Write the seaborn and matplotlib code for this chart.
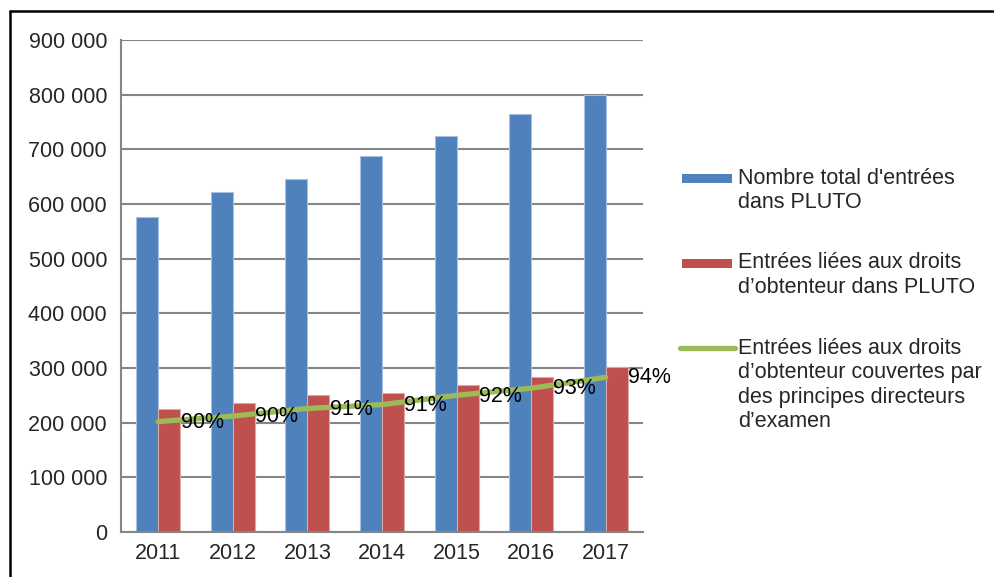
import numpy as np
import pandas as pd
import matplotlib
matplotlib.use("Agg")
import matplotlib.pyplot as plt
from matplotlib.lines import Line2D
from matplotlib.patches import Rectangle
from matplotlib.ticker import FuncFormatter, FixedLocator
import seaborn as sns

# data
years = ['2011', '2012', '2013', '2014', '2015', '2016', '2017']
total_entries = [576000, 622000, 645000, 688000, 725000, 765000, 799000]
pvp_entries = [225000, 236500, 250500, 255000, 269000, 284000, 302000]
tg_entries = [202000, 212000, 226000, 233000, 250000, 263000, 283000]
tg_pct = ['90%', '90%', '91%', '91%', '92%', '93%', '94%']

labels = ["Nombre total d'entrées\ndans PLUTO",
          "Entrées liées aux droits\nd’obtenteur dans PLUTO",
          "Entrées liées aux droits\nd’obtenteur couvertes par\ndes principes directeurs\nd’examen"]

blue = '#4F81BD'
red = '#C0504D'
green = '#9BBB59'
grid_grey = '#868686'

sns.set_style('white')
plt.rcParams['font.family'] = ['Liberation Sans', 'DejaVu Sans']
FS = 15.5

df = pd.DataFrame({
    'year': years * 2,
    'value': total_entries + pvp_entries,
    'series': ['total'] * len(years) + ['pvp'] * len(years),
})

W, H = 995, 577
fig = plt.figure(figsize=(W / 100, H / 100), dpi=100)
ax = fig.add_axes([121 / W, 1 - 532 / H, (643 - 121) / W, (532 - 40) / H])

sns.barplot(data=df, x='year', y='value', hue='series', palette=[blue, red],
            width=0.59, gap=0, saturation=1, legend=False, ax=ax, zorder=2)

# light outline on the bars
for cont, ec in zip(ax.containers, ['#A7C0DE', '#DFA8A6']):
    for bar in cont:
        bar.set_edgecolor(ec)
        bar.set_linewidth(0.8)

# coverage line with percentage labels
x_pos = np.arange(len(years))
sns.lineplot(x=x_pos, y=tg_entries, color=green, linewidth=3.8, ax=ax,
             zorder=3, solid_capstyle='round')
for xi, yi, txt in zip(x_pos, tg_entries, tg_pct):
    ax.annotate(txt, (xi, yi), xytext=(16, -0.5), textcoords='offset points',
                ha='left', va='center', fontsize=FS, color='black', zorder=4)

ax.set_xlim(-0.5, len(years) - 0.5)
ax.set_ylim(0, 900000)
ax.set_yticks(np.arange(0, 900001, 100000))
ax.yaxis.set_major_formatter(FuncFormatter(lambda v, p: f'{int(v):,}'.replace(',', ' ')))
ax.set_xlabel('')
ax.set_ylabel('')

ax.grid(axis='y', color=grid_grey, linewidth=1.5, zorder=0)
ax.set_axisbelow(True)
for side in ['top', 'right']:
    ax.spines[side].set_visible(False)
for side in ['left', 'bottom']:
    ax.spines[side].set_color(grid_grey)
    ax.spines[side].set_linewidth(1.5)

ax.tick_params(axis='y', length=4, width=1.2, color=grid_grey, pad=6, labelsize=FS)
ax.tick_params(axis='x', which='major', length=0, pad=8, labelsize=FS)
ax.xaxis.set_minor_locator(FixedLocator(np.arange(-0.5, len(years), 1.0)))
ax.tick_params(axis='x', which='minor', length=4.5, width=1.2, color=grid_grey)


def px(x, y):
    return x / W, 1 - y / H


# legend drawn at the right of the plot area
line_gap = 24.5
fig.add_artist(Rectangle(px(682, 183), 50 / W, 9 / H, transform=fig.transFigure,
                         facecolor=blue, edgecolor='none'))
fig.add_artist(Rectangle(px(682, 268), 50 / W, 9 / H, transform=fig.transFigure,
                         facecolor=red, edgecolor='none'))
fig.add_artist(Line2D([680 / W, 735 / W], [1 - 348 / H, 1 - 348 / H],
                      transform=fig.transFigure, color=green, linewidth=3.8,
                      solid_capstyle='round'))
for label, y0 in zip(labels, [178, 263, 348]):
    for i, line in enumerate(label.split('\n')):
        fx, fy = px(738, y0 + i * line_gap)
        fig.text(fx, fy, line, ha='left', va='center', fontsize=FS)

# outer frame (cut at right and bottom like the reference)
fig.add_artist(Line2D([10 / W, 1.0], [1 - 11 / H, 1 - 11 / H],
                      transform=fig.transFigure, color='black', linewidth=1.8))
fig.add_artist(Line2D([10 / W, 10 / W], [0, 1 - 11 / H],
                      transform=fig.transFigure, color='black', linewidth=1.8))

fig.savefig('out.png', dpi=100)
